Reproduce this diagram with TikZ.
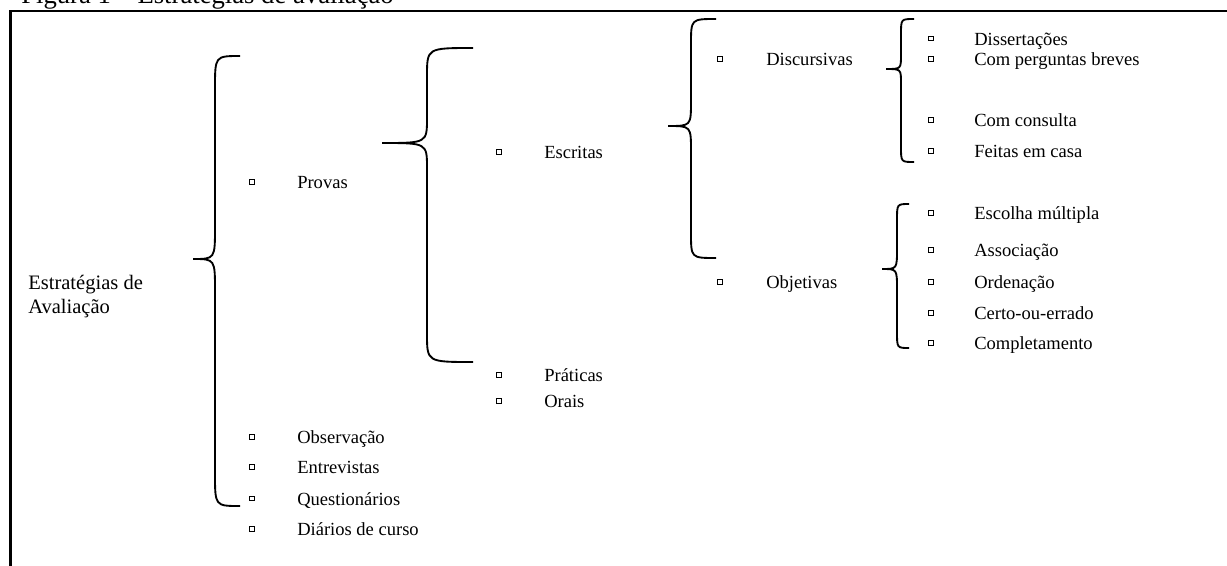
\documentclass[tikz,border=0pt]{standalone}
\usepackage{fontspec}
\setmainfont{Liberation Serif}
\newcommand{\mybrace}[8]{% xt xv xe ytop ytip ybot r1 r2
  \draw[brc] (#3,#4) .. controls (#2,#4) .. (#2,#4+#7) -- (#2,#5-#8)
    .. controls (#2,#5) .. (#1,#5) .. controls (#2,#5) .. (#2,#5+#8)
    -- (#2,#6-#7) .. controls (#2,#6) .. (#3,#6);}
\tikzset{
  brc/.style={line width=1.4pt},
  frame/.style={line width=1.7pt},
  itm/.style={anchor=base west, inner sep=0pt, font=\fontsize{13.9}{16}\selectfont},
  rootlbl/.style={anchor=base west, inner sep=0pt, font=\fontsize{15.4}{18}\selectfont},
  ttl/.style={anchor=base west, inner sep=0pt, font=\fontsize{20}{22}\selectfont},
  bul/.style={draw, rectangle, inner sep=0pt, minimum size=3.4pt, line width=0.5pt},
}
\newcommand{\itemat}[5]{% name bulletx textx centery text
  \node[bul] (#1b) at (#2,#4) {};
  \node[itm] (#1) at (#3,#4+6.5) {#5};}
\begin{document}
\begin{tikzpicture}[x=0.75pt,y=-0.75pt]
\useasboundingbox (0,0) rectangle (1227,565);
\clip (0,0) rectangle (1227,565);
\node[ttl] (title) at (21,3.5) {Figura 1 – Estratégias de avaliação};
\draw[frame] (10.5,580) -- (10.5,11) -- (1240,11);
% root
\node[rootlbl] (rootA) at (28,289) {Estratégias de};
\node[rootlbl] (rootB) at (28,313) {Avaliação};
% braces
\mybrace{193}{215}{240}{56}{259}{506}{32}{32}
\mybrace{382}{427}{473}{48}{143}{362}{28}{25}
\mybrace{668}{691}{716}{19}{126}{258}{25}{25}
\mybrace{886}{901}{914}{19}{69}{162}{15}{14}
\mybrace{882}{897}{909}{204}{269}{348}{16}{20}
% level 1
\itemat{provas}{252}{297}{182}{Provas}
\itemat{obs}{252}{297}{437}{Observação}
\itemat{entr}{252}{297}{467}{Entrevistas}
\itemat{quest}{252}{297}{498.5}{Questionários}
\itemat{diar}{252}{297}{529}{Diários de curso}
% level 2
\itemat{escr}{499}{544}{152}{Escritas}
\itemat{prat}{499}{544}{375}{Práticas}
\itemat{orais}{499}{544}{401}{Orais}
% level 3
\itemat{disc}{720}{766}{59}{Discursivas}
\itemat{obj}{720}{766}{282}{Objetivas}
% level 4
\itemat{diss}{931}{974}{38.5}{Dissertações}
\itemat{perg}{931}{974}{59}{Com perguntas breves}
\itemat{cons}{931}{974}{120}{Com consulta}
\itemat{casa}{931}{974}{151}{Feitas em casa}
\itemat{esc}{931}{974}{213}{Escolha múltipla}
\itemat{assoc}{931}{974}{250}{Associação}
\itemat{orden}{931}{974}{281.7}{Ordenação}
\itemat{certo}{931}{974}{313}{Certo-ou-errado}
\itemat{compl}{931}{974}{343}{Completamento}
\end{tikzpicture}
\end{document}
